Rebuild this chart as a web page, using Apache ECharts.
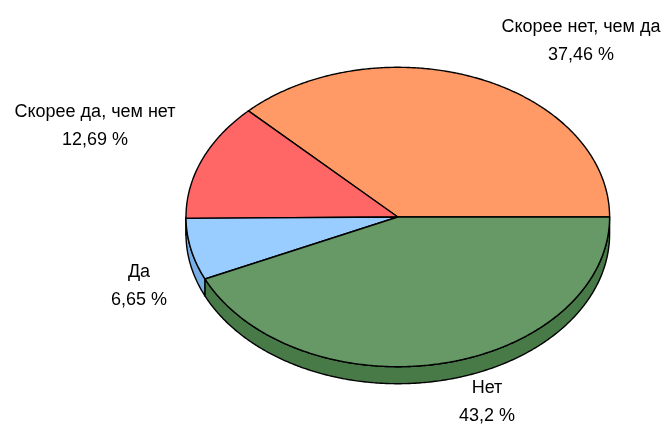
<!DOCTYPE html>
<html>
<head>
<meta charset="utf-8">
<script src="https://cdn.jsdelivr.net/npm/echarts@6/dist/echarts.min.js"></script>
<style>
html,body{margin:0;padding:0;background:#fff;}
#chart{width:665px;height:428px;}
</style>
</head>
<body>
<div id="chart"></div>
<script>
const categories = ['Скорее нет, чем да', 'Скорее да, чем нет', 'Да', 'Нет'];
const values = [37.46, 12.69, 6.65, 43.2];
const percentLabels = ['37,46 %', '12,69 %', '6,65 %', '43,2 %'];

const colors = ['#FF9966', '#FF6666', '#99CCFF', '#669966'];
const sideColors = ['#CC7A52', '#CC5252', '#78AEE6', '#487A48'];
const labelPos = [[581, 41], [95, 126], [139, 286], [487, 402]];
const geom = { cx: 397.8, cy: 217, rx: 211.8, ry: 149.7, depth: 17 };

const total = values.reduce((a, b) => a + b, 0);

function pt(tDeg, dy) {
  const t = tDeg * Math.PI / 180;
  return [geom.cx + geom.rx * Math.cos(t), geom.cy - geom.ry * Math.sin(t) + (dy || 0)];
}
function arcPoints(a0, a1, dy) {
  const pts = [];
  const n = Math.max(2, Math.ceil((a1 - a0) / 0.5));
  for (let k = 0; k <= n; k++) pts.push(pt(a0 + (a1 - a0) * k / n, dy));
  return pts;
}

function renderItem(params, api) {
  const i = params.dataIndex;
  let before = 0;
  for (let k = 0; k < i; k++) before += values[k];
  const a0 = before / total * 360;
  const a1 = (before + api.value(0)) / total * 360;
  const children = [];
  // side wall (visible lower half 180..360)
  const s = Math.max(a0, 180), e = Math.min(a1, 360);
  if (e > s) {
    const upper = arcPoints(s, e, 0);
    const lower = arcPoints(s, e, geom.depth).reverse();
    children.push({
      type: 'polygon', z2: 1,
      shape: { points: upper.concat(lower) },
      style: { fill: sideColors[i], stroke: '#000', lineWidth: 1.4, lineJoin: 'round' }
    });
  }
  // top face
  children.push({
    type: 'polygon', z2: 2,
    shape: { points: [[geom.cx, geom.cy]].concat(arcPoints(a0, a1, 0)) },
    style: { fill: colors[i], stroke: '#000', lineWidth: 1.4, lineJoin: 'round' }
  });
  // label
  children.push({
    type: 'text', z2: 3,
    style: {
      text: categories[i] + '\n' + percentLabels[i],
      x: labelPos[i][0], y: labelPos[i][1],
      align: 'center', verticalAlign: 'middle',
      fontSize: 18, fontFamily: '"Liberation Sans", Arial, sans-serif',
      lineHeight: 28, fill: '#000'
    }
  });
  return { type: 'group', children: children };
}

const chart = echarts.init(document.getElementById('chart'), null, { renderer: 'canvas' });
chart.setOption({
  animation: false,
  backgroundColor: '#fff',
  series: [{
    type: 'custom',
    coordinateSystem: 'none',
    silent: true,
    renderItem: renderItem,
    data: values.map((v, i) => ({ value: v, name: categories[i] }))
  }]
});
</script>
</body>
</html>
